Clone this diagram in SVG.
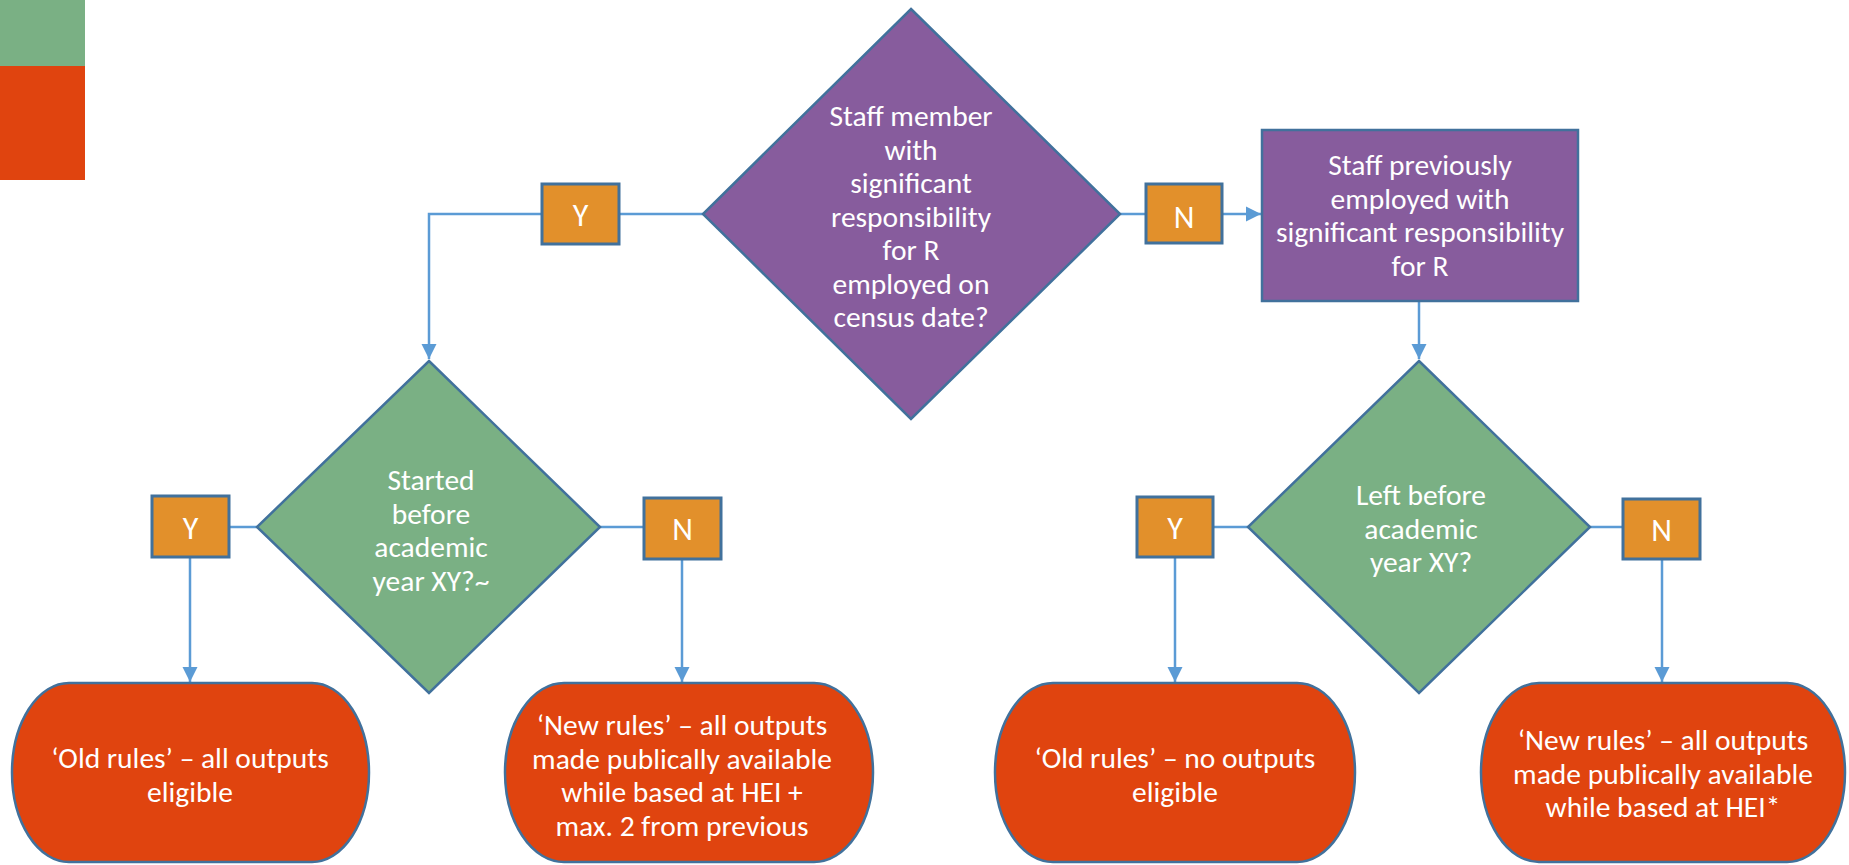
<svg xmlns="http://www.w3.org/2000/svg" width="1849" height="865" viewBox="0 0 1849 865">
<style>
.purple{fill:#875C9D;stroke:#41719C;stroke-width:2.5}
.green{fill:#7AB084;stroke:#41719C;stroke-width:2.5}
.yn{fill:#E2902B;stroke:#41719C;stroke-width:3}
.term{fill:#E0440F;stroke:#41719C;stroke-width:2.5}
.t{font-family:Carlito,Lato,"Liberation Sans",sans-serif;font-size:29.5px;fill:#FFFFFF;text-anchor:middle}
.l{font-family:Carlito,Lato,"Liberation Sans",sans-serif;font-size:32px;fill:#FFFFFF;text-anchor:middle}
.c{fill:none;stroke:#5B9BD5;stroke-width:2.5}
</style>
<defs>
<marker id="arr" markerWidth="16" markerHeight="16" refX="15" refY="8" orient="auto" markerUnits="userSpaceOnUse">
<path d="M0,0.5 L15,8 L0,15.5 Z" fill="#5B9BD5"/>
</marker>
</defs>
<rect width="1849" height="865" fill="#FFFFFF"/>
<g id="legend">
<rect x="0" y="0" width="85" height="66" fill="#7AB084"/>
<rect x="0" y="66" width="85" height="114" fill="#E0440F"/>
</g>
<g id="connectors">
<polyline class="c" points="703,214 542,214 429,214 429,359" marker-end="url(#arr)"/>
<line class="c" x1="1120" y1="214" x2="1261" y2="214" marker-end="url(#arr)"/>
<line class="c" x1="1419" y1="301" x2="1419" y2="359" marker-end="url(#arr)"/>
<line class="c" x1="257" y1="527" x2="228" y2="527"/>
<line class="c" x1="190" y1="558" x2="190" y2="682" marker-end="url(#arr)"/>
<line class="c" x1="600" y1="527" x2="644" y2="527"/>
<line class="c" x1="682" y1="559" x2="682" y2="682" marker-end="url(#arr)"/>
<line class="c" x1="1248" y1="527" x2="1213" y2="527"/>
<line class="c" x1="1175" y1="557" x2="1175" y2="682" marker-end="url(#arr)"/>
<line class="c" x1="1590" y1="527" x2="1623" y2="527"/>
<line class="c" x1="1662" y1="559" x2="1662" y2="682" marker-end="url(#arr)"/>
</g>
<g id="q1">
<polygon class="purple" points="911,9 1120,214 911,419 703,214"/>
<text class="t" x="911" y="126">Staff member</text>
<text class="t" x="911" y="159.5">with</text>
<text class="t" x="911" y="193">significant</text>
<text class="t" x="911" y="226.5">responsibility</text>
<text class="t" x="911" y="260">for R</text>
<text class="t" x="911" y="293.5">employed on</text>
<text class="t" x="911" y="327">census date?</text>
</g>
<g id="yTop">
<rect class="yn" x="542" y="184" width="77" height="60"/>
<text class="l" x="580.5" y="226">Y</text>
</g>
<g id="nTop">
<rect class="yn" x="1146" y="184" width="76" height="59"/>
<text class="l" x="1184" y="228">N</text>
</g>
<g id="q2">
<rect class="purple" x="1262" y="130" width="316" height="171"/>
<text class="t" x="1420" y="175">Staff previously</text>
<text class="t" x="1420" y="208.5">employed with</text>
<text class="t" x="1420" y="242">significant responsibility</text>
<text class="t" x="1420" y="275.5">for R</text>
</g>
<g id="q3">
<polygon class="green" points="429,361 600,527 429,693 257,527"/>
<text class="t" x="431" y="490">Started</text>
<text class="t" x="431" y="523.5">before</text>
<text class="t" x="431" y="557">academic</text>
<text class="t" x="431" y="590.5">year XY?~</text>
</g>
<g id="q4">
<polygon class="green" points="1419,361 1590,527 1419,693 1248,527"/>
<text class="t" x="1421" y="505">Left before</text>
<text class="t" x="1421" y="538.5">academic</text>
<text class="t" x="1421" y="572">year XY?</text>
</g>
<g id="yLeft">
<rect class="yn" x="152" y="496" width="77" height="61"/>
<text class="l" x="190.5" y="539">Y</text>
</g>
<g id="nLeft">
<rect class="yn" x="644" y="498" width="77" height="61"/>
<text class="l" x="682.5" y="540">N</text>
</g>
<g id="yRight">
<rect class="yn" x="1137" y="497" width="76" height="60"/>
<text class="l" x="1175" y="539">Y</text>
</g>
<g id="nRight">
<rect class="yn" x="1623" y="499" width="77" height="60"/>
<text class="l" x="1661.5" y="541">N</text>
</g>
<g id="r1">
<rect class="term" x="12" y="683" width="357" height="179" rx="57" ry="89.5"/>
<text class="t" x="190" y="768">‘Old rules’ – all outputs</text>
<text class="t" x="190" y="801.5">eligible</text>
</g>
<g id="r2">
<rect class="term" x="505" y="683" width="368" height="179" rx="59" ry="89.5"/>
<text class="t" x="682" y="735">‘New rules’ – all outputs</text>
<text class="t" x="682" y="768.5">made publically available</text>
<text class="t" x="682" y="802">while based at HEI +</text>
<text class="t" x="682" y="835.5">max. 2 from previous</text>
</g>
<g id="r3">
<rect class="term" x="995" y="683" width="360" height="179" rx="58" ry="89.5"/>
<text class="t" x="1175" y="768">‘Old rules’ – no outputs</text>
<text class="t" x="1175" y="801.5">eligible</text>
</g>
<g id="r4">
<rect class="term" x="1481" y="683" width="364" height="179" rx="58" ry="89.5"/>
<text class="t" x="1663" y="750">‘New rules’ – all outputs</text>
<text class="t" x="1663" y="783.5">made publically available</text>
<text class="t" x="1663" y="817">while based at HEI*</text>
</g>
</svg>
